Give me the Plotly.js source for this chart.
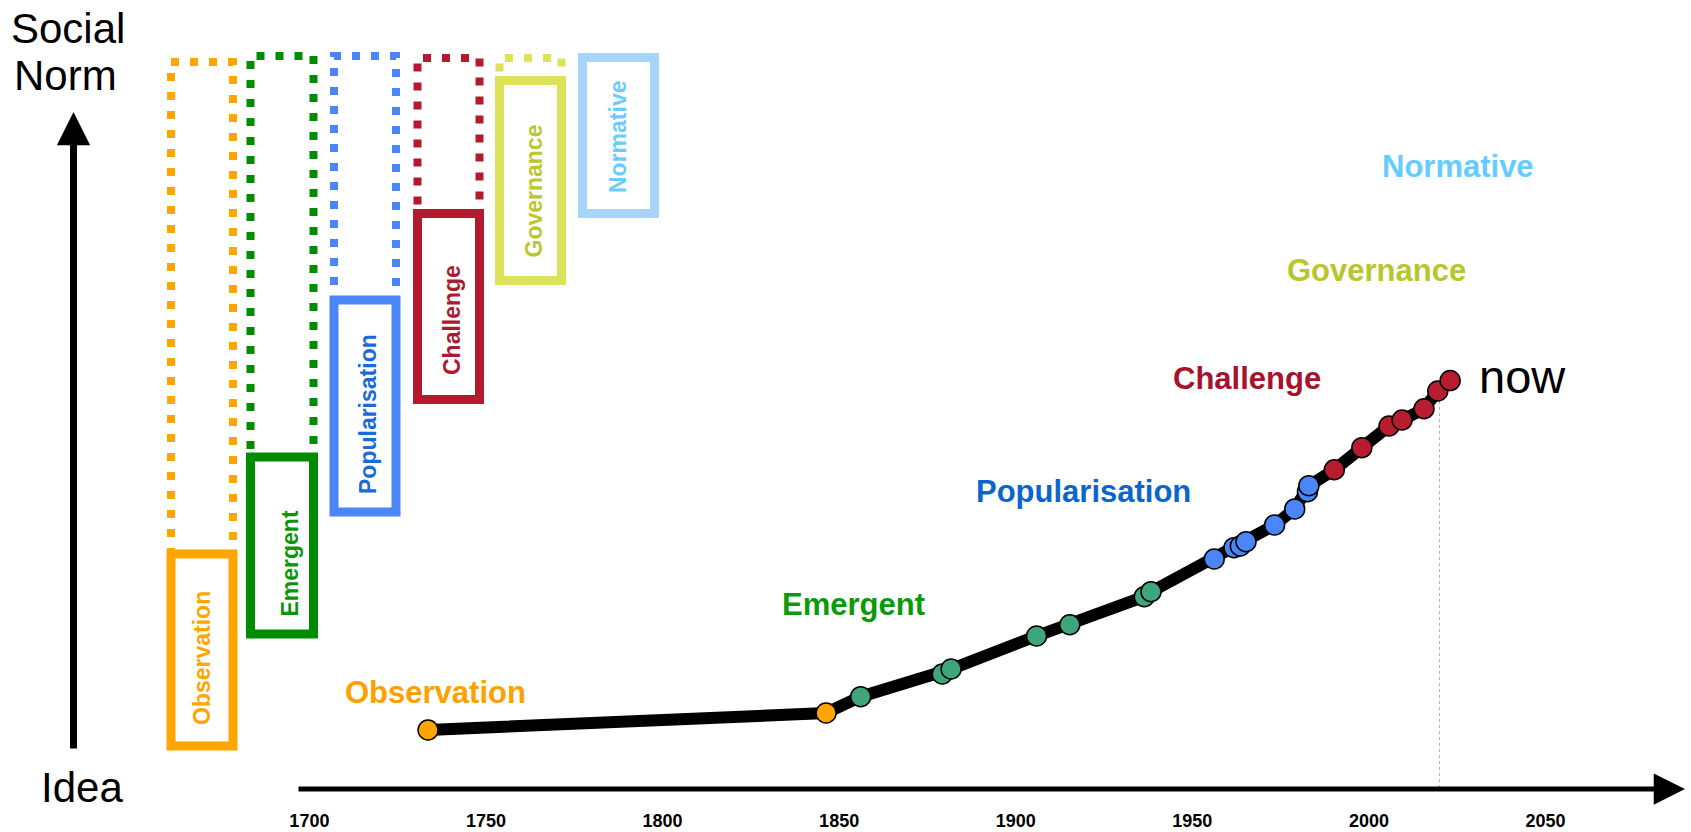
<!DOCTYPE html>
<html>
<head>
<meta charset="utf-8">
<script src="https://cdn.plot.ly/plotly-3.0.1.min.js"></script>
<style>
  html, body { margin: 0; padding: 0; background: #ffffff; }
  #chart { width: 1691px; height: 832px; }
</style>
</head>
<body>
<div id="chart"></div>
<script>
// ---------------- DATA ----------------
// Each dot: year of the event and its position on the Idea -> Social Norm scale (0-100)
const years  = [1733.6, 1846.3,
                1856.1, 1879.2, 1881.7, 1905.9, 1915.3, 1936.4, 1938.3,
                1956.2, 1961.8, 1963.6, 1965.2, 1973.3, 1979.0, 1982.6, 1983.0,
                1990.2, 1998.0, 2005.7, 2009.4, 2015.6, 2019.5, 2023.0];
const levels = [7.36, 9.52,
                11.59, 14.47, 15.10, 19.29, 20.72, 24.28, 24.91,
                29.06, 30.50, 30.71, 31.26, 33.38, 35.41, 37.60, 38.36,
                40.39, 43.19, 45.94, 46.70, 48.13, 50.38, 51.71];
const phases = ['Observation', 'Observation',
                'Emergent', 'Emergent', 'Emergent', 'Emergent', 'Emergent', 'Emergent', 'Emergent',
                'Popularisation', 'Popularisation', 'Popularisation', 'Popularisation',
                'Popularisation', 'Popularisation', 'Popularisation', 'Popularisation',
                'Challenge', 'Challenge', 'Challenge', 'Challenge', 'Challenge', 'Challenge', 'Challenge'];
const stageNames = ['Observation', 'Emergent', 'Popularisation', 'Challenge', 'Governance', 'Normative'];
const tickYears  = [1700, 1750, 1800, 1850, 1900, 1950, 2000, 2050];
const nowYear = 2020;
const nowLevel = 51;

// ---------------- STYLE / LAYOUT ----------------
const W = 1691, H = 832, AXIS_Y = 788;
const FONT = 'Liberation Sans, Arial, Helvetica, sans-serif';
const markerColor = {Observation: '#FFA500', Emergent: '#3FA67B', Popularisation: '#4A86F7', Challenge: '#B81D2F'};
const labelColor  = {Observation: '#FF9F00', Emergent: '#0A9A0A', Popularisation: '#0A66CC',
                     Challenge: '#A8122C', Governance: '#B7C62A', Normative: '#66CCFF'};
// stage labels near the curve (anchor in data units: year, level)
const stageLabelPos = {Observation: [1735.6, 12.18], Emergent: [1854.1, 23.35], Popularisation: [1919.1, 37.69],
                       Challenge: [1965.4, 52.03], Governance: [2002.1, 65.67], Normative: [2025.3, 78.87]};
// schematic boxes on the left (pixel geometry)
const boxGeom = {
  Observation:    {line: '#FFA500', text: '#FFA500', x0: 171,   x1: 233,   dot: 62,   top: 554,   bot: 746,   tx: 201.5, ty: 658.5},
  Emergent:       {line: '#008C00', text: '#0A960A', x0: 250.5, x1: 313.5, dot: 56,   top: 457,   bot: 634,   tx: 289.5, ty: 564},
  Popularisation: {line: '#4A86F8', text: '#1A6AD8', x0: 334,   x1: 396,   dot: 56,   top: 300,   bot: 512,   tx: 367.5, ty: 414.5},
  Challenge:      {line: '#B5192E', text: '#AD1A30', x0: 417.5, x1: 479.5, dot: 58,   top: 213.5, bot: 399.5, tx: 451.5, ty: 320.5},
  Governance:     {line: '#DCE25A', text: '#BCC72E', x0: 499.5, x1: 561.5, dot: 58,   top: 80.5,  bot: 280.5, tx: 533,   ty: 191.5},
  Normative:      {line: '#A8D4FA', text: '#6DCBFF', x0: 582.5, x1: 654.5, dot: null, top: 57.5,  bot: 213.5, tx: 617.5, ty: 137.5}
};
const PX = v => v / W;
const PY = v => (AXIS_Y - v) / AXIS_Y;

// ---------------- TRACES ----------------
const lineTrace = {
  type: 'scatter', mode: 'lines', x: years, y: levels,
  line: {color: '#000000', width: 12}, hoverinfo: 'skip', showlegend: false
};
const dotTrace = {
  type: 'scatter', mode: 'markers', x: years, y: levels, text: phases,
  marker: {size: 20, color: phases.map(p => markerColor[p]), line: {color: '#000000', width: 1.5}},
  showlegend: false
};

// ---------------- SHAPES ----------------
const shapes = [];
shapes.push({type: 'line', xref: 'x', yref: 'y', x0: nowYear, x1: nowYear, y0: 0, y1: nowLevel,
             line: {color: '#b4b4b4', width: 1, dash: 'dot'}, layer: 'below'});
stageNames.forEach(n => {
  const b = boxGeom[n];
  if (b.dot !== null) {
    shapes.push({type: 'rect', xref: 'paper', yref: 'paper', x0: PX(b.x0), x1: PX(b.x1), y0: PY(b.top), y1: PY(b.dot),
                 line: {color: b.line, width: 8, dash: '8px,11px'}, fillcolor: 'rgba(0,0,0,0)'});
  }
  shapes.push({type: 'rect', xref: 'paper', yref: 'paper', x0: PX(b.x0), x1: PX(b.x1), y0: PY(b.bot), y1: PY(b.top),
               line: {color: b.line, width: 9}, fillcolor: 'rgba(0,0,0,0)'});
});

// ---------------- ANNOTATIONS ----------------
const ann = [];
stageNames.forEach(n => {
  const b = boxGeom[n];
  ann.push({xref: 'paper', yref: 'paper', x: PX(b.tx), y: PY(b.ty), text: n, showarrow: false, textangle: -90,
            xanchor: 'center', yanchor: 'middle',
            font: {family: FONT, size: 23, color: b.text, weight: 'bold'}});
  const p = stageLabelPos[n];
  ann.push({xref: 'x', yref: 'y', x: p[0], y: p[1], text: n, showarrow: false, xanchor: 'center', yanchor: 'middle',
            font: {family: FONT, size: 31, color: labelColor[n], weight: 'bold'}});
});
ann.push({xref: 'x', yref: 'y', x: 2030.5, y: 52.16, text: 'now', showarrow: false, xanchor: 'left', yanchor: 'middle',
          font: {family: FONT, size: 47, color: '#000000'}});
ann.push({xref: 'paper', yref: 'paper', x: PX(9), y: PY(28.5), text: 'Social', showarrow: false, xanchor: 'left', yanchor: 'middle',
          font: {family: FONT, size: 42, color: '#000000'}});
ann.push({xref: 'paper', yref: 'paper', x: PX(12), y: PY(76), text: 'Norm', showarrow: false, xanchor: 'left', yanchor: 'middle',
          font: {family: FONT, size: 42, color: '#000000'}});
ann.push({xref: 'paper', yref: 'paper', x: PX(39), y: PY(787), text: 'Idea', showarrow: false, xanchor: 'left', yanchor: 'middle',
          font: {family: FONT, size: 42, color: '#000000'}});
// axis arrows
ann.push({xref: 'paper', yref: 'paper', x: PX(1685), y: PY(789), ax: -(1685 - 297), ay: 0, text: '', showarrow: true,
          arrowhead: 2, arrowwidth: 5, arrowsize: 1.25, arrowcolor: '#000000', standoff: 0, startstandoff: 0});
ann.push({xref: 'paper', yref: 'paper', x: PX(73.5), y: PY(112), ax: 0, ay: 750 - 112, text: '', showarrow: true,
          arrowhead: 2, arrowwidth: 7, arrowsize: 0.95, arrowcolor: '#000000', standoff: 0, startstandoff: 0});

// ---------------- LAYOUT ----------------
const layout = {
  width: W, height: H,
  margin: {l: 0, r: 0, t: 0, b: H - AXIS_Y, pad: 0},
  paper_bgcolor: '#ffffff', plot_bgcolor: '#ffffff',
  showlegend: false,
  xaxis: {
    range: [1612.4, 2091.2], showgrid: false, zeroline: false, showline: false,
    tickmode: 'array', tickvals: tickYears, ticktext: tickYears.map(String),
    ticks: '', ticklabelstandoff: 20,
    tickfont: {family: FONT, size: 18, color: '#000000', weight: 'bold'}, fixedrange: true
  },
  yaxis: {range: [0, 100], visible: false, showgrid: false, zeroline: false, fixedrange: true},
  shapes: shapes,
  annotations: ann
};

Plotly.newPlot('chart', [lineTrace, dotTrace], layout, {displayModeBar: false, staticPlot: true});
</script>
</body>
</html>
